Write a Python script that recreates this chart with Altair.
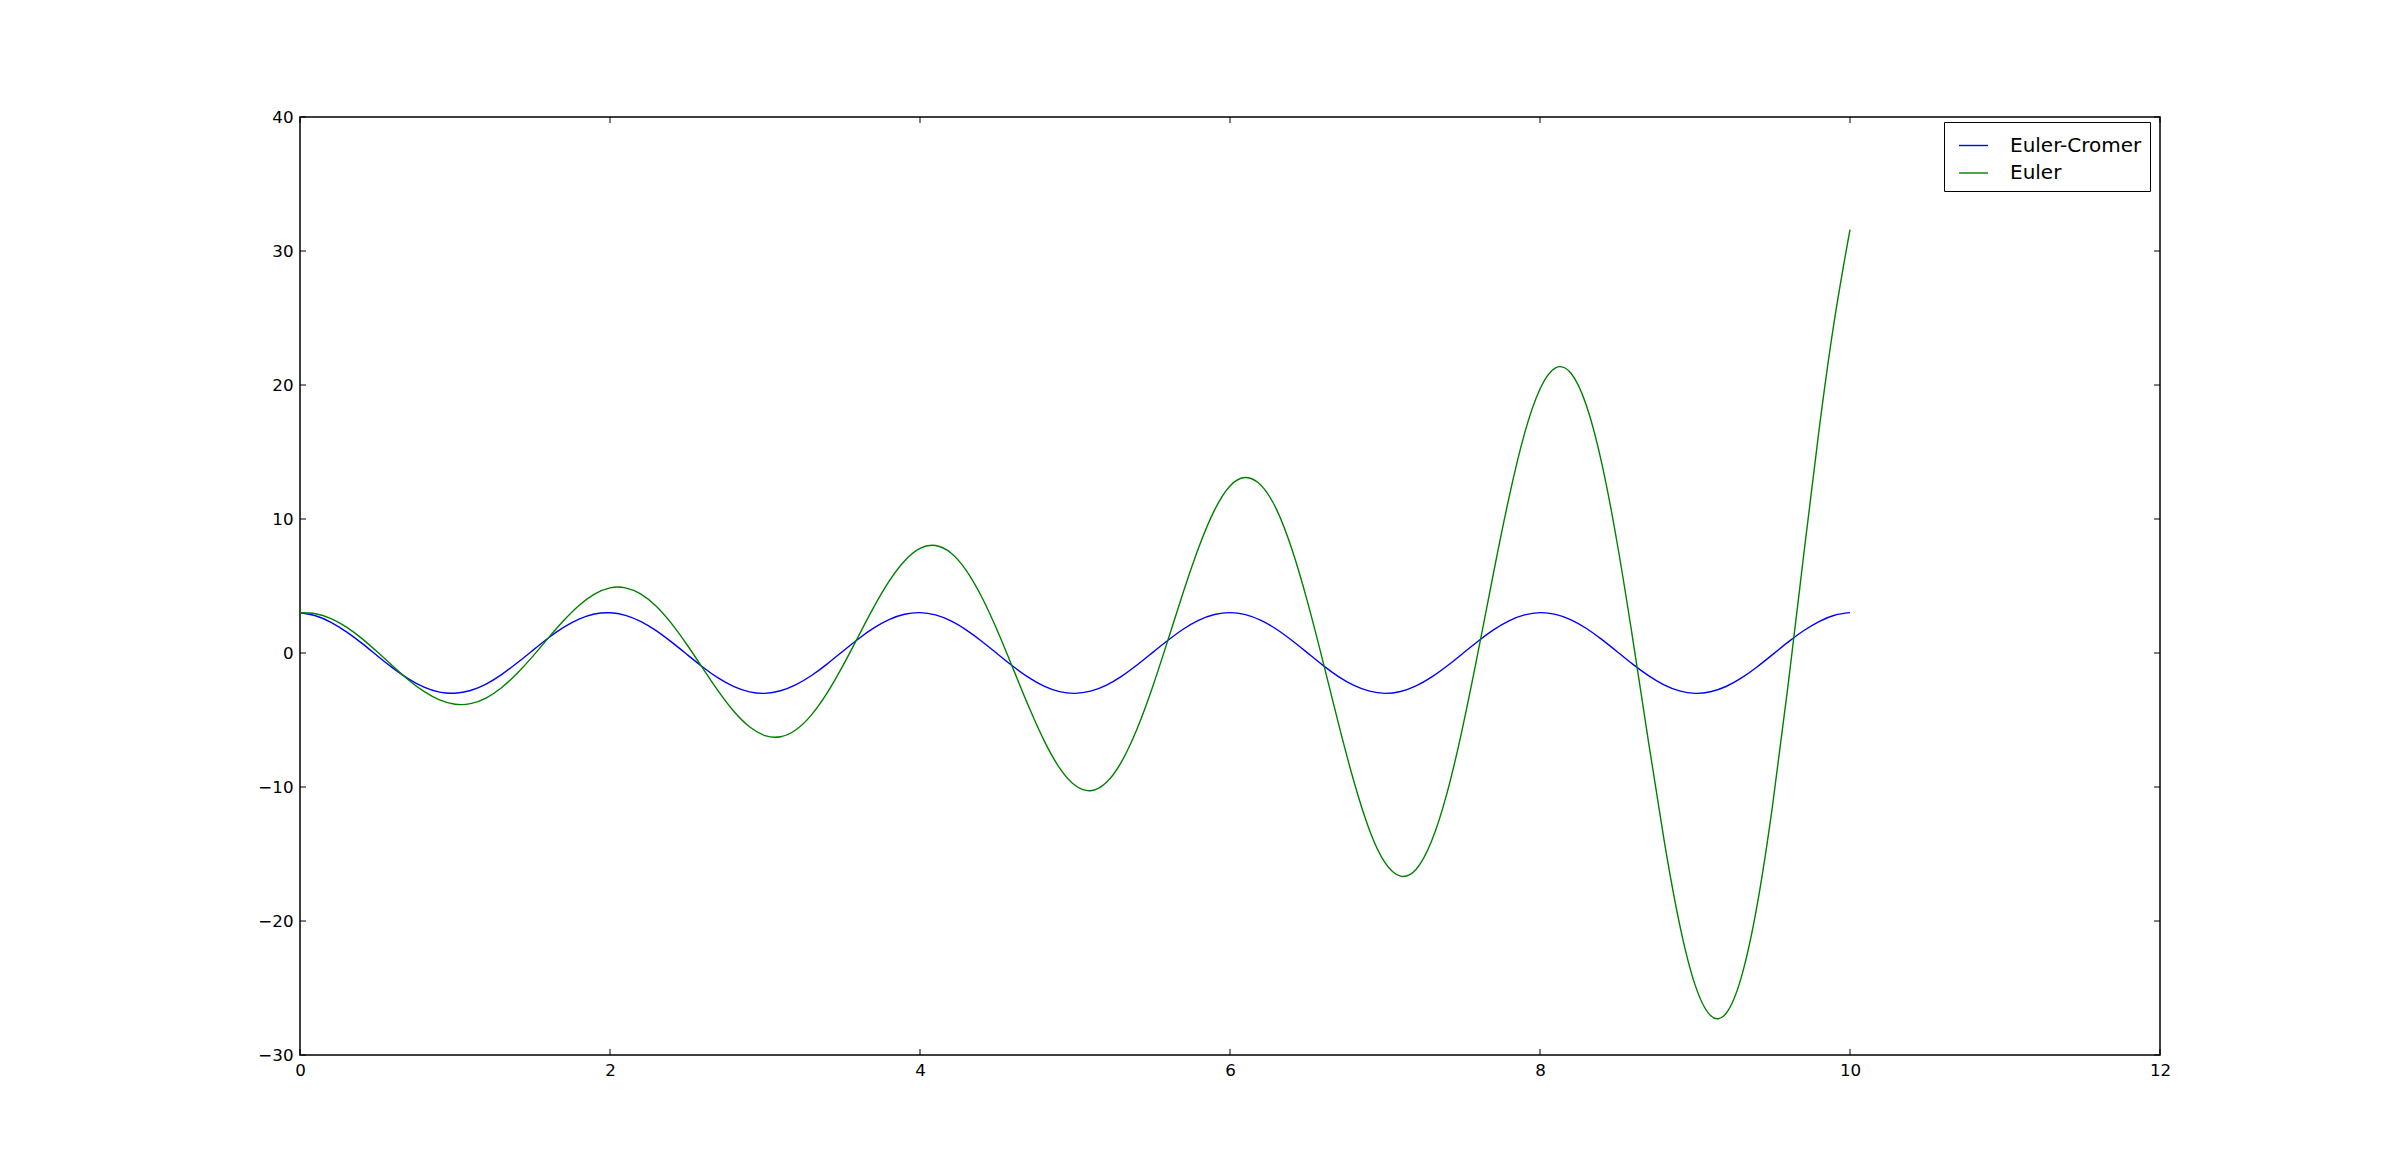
import altair as alt
import pandas as pd

# sample grid (plotted time)
x_vals = [round(i * 0.1, 1) for i in range(101)]

euler_cromer = [
    3.00, 2.78, 2.29, 1.58, 0.72, -0.22, -1.13, -1.93, -2.55, -2.92,
    -3.00, -2.80, -2.32, -1.61, -0.75, 0.18, 1.10, 1.91, 2.53, 2.91,
    3.00, 2.81, 2.34, 1.65, 0.79, -0.14, -1.06, -1.88, -2.51, -2.90,
    -3.01, -2.82, -2.36, -1.68, -0.83, 0.11, 1.03, 1.85, 2.49, 2.89,
    3.01, 2.84, 2.39, 1.71, 0.86, -0.07, -0.99, -1.82, -2.47, -2.88,
    -3.01, -2.85, -2.41, -1.74, -0.90, 0.03, 0.95, 1.79, 2.45, 2.87,
    3.01, 2.86, 2.43, 1.77, 0.93, 0.01, -0.92, -1.76, -2.42, -2.85,
    -3.01, -2.87, -2.45, -1.80, -0.97, -0.05, 0.88, 1.73, 2.40, 2.84,
    3.01, 2.88, 2.48, 1.83, 1.00, 0.08, -0.85, -1.69, -2.38, -2.83,
    -3.01, -2.89, -2.50, -1.86, -1.04, -0.12, 0.81, 1.66, 2.35, 2.82, 3.01,
]

euler = [
    3.00, 2.93, 2.56, 1.93, 1.07, 0.07, -0.99, -2.01, -2.87, -3.50,
    -3.82, -3.78, -3.36, -2.59, -1.53, -0.27, 1.09, 2.40, 3.54, 4.39,
    4.86, 4.86, 4.39, 3.47, 2.15, 0.56, -1.16, -2.86, -4.36, -5.50,
    -6.16, -6.25, -5.73, -4.62, -3.00, -1.00, 1.19, 3.38, 5.34, 6.87,
    7.81, 8.02, 7.46, 6.13, 4.14, 1.64, -1.15, -3.96, -6.52, -8.57,
    -9.87, -10.28, -9.69, -8.12, -5.67, -2.55, 0.98, 4.59, 7.93, 10.66,
    12.47, 13.10, 12.52, 10.72, 7.72, 3.82, -0.64, -5.27, -9.61, -13.22,
    -15.65, -16.65, -16.15, -14.05, -10.46, -5.60, 0.04, 5.97, 11.60, 16.37,
    19.70, 21.28, 20.88, 18.45, 14.08, 8.06, 0.93, -6.63, -13.92, -20.21,
    -24.75, -27.05, -26.90, -24.15, -18.88, -11.41, -2.45, 7.20, 16.62, 24.88, 31.60,
]

series_names = ["Euler-Cromer", "Euler"]
series_colors = ["#0000ff", "#008000"]
x_ticks = [0, 2, 4, 6, 8, 10, 12]
y_ticks = [-30, -20, -10, 0, 10, 20, 30, 40]

W, H = 1860, 938
FONT = "DejaVu Sans"

df = pd.DataFrame({
    "t": x_vals + x_vals,
    "value": euler_cromer + euler,
    "series": [series_names[0]] * len(x_vals) + [series_names[1]] * len(x_vals),
})

xscale = alt.Scale(domain=[0, 12], nice=False, zero=False)
yscale = alt.Scale(domain=[-30, 40], nice=False, zero=False)

axis_common = dict(
    title=None, grid=False, domain=False, ticks=False,
    labelFont=FONT, labelFontSize=16.7, labelColor="black",
    labelFlush=False, labelOverlap=False, labelPadding=7,
)
x_axis = alt.Axis(values=x_ticks, **axis_common)
y_axis = alt.Axis(values=y_ticks, **axis_common)

lines = alt.Chart(df).mark_line(strokeWidth=1.4, interpolate="natural").encode(
    x=alt.X("t:Q", scale=xscale, axis=x_axis),
    y=alt.Y("value:Q", scale=yscale, axis=y_axis),
    color=alt.Color(
        "series:N",
        scale=alt.Scale(domain=series_names, range=series_colors),
        legend=alt.Legend(
            title=None, orient="none", legendX=1644, legendY=5,
            direction="vertical", symbolType="stroke", symbolSize=841,
            symbolStrokeWidth=1.4, labelFontSize=20, labelFont=FONT,
            labelColor="black", labelOffset=21, padding=8, symbolOffset=6,
            strokeColor="black", fillColor="white", cornerRadius=0,
            rowPadding=1.5, labelLimit=400,
        ),
    ),
)

xt = pd.DataFrame({"v": x_ticks})
yt = pd.DataFrame({"v": y_ticks})

bottom_ticks = alt.Chart(xt).mark_rule(color="black", strokeWidth=1).encode(
    x=alt.X("v:Q", scale=xscale, axis=x_axis), y=alt.value(H), y2=alt.value(H - 6))
top_ticks = alt.Chart(xt).mark_rule(color="black", strokeWidth=1).encode(
    x=alt.X("v:Q", scale=xscale, axis=x_axis), y=alt.value(0), y2=alt.value(6))
left_ticks = alt.Chart(yt).mark_rule(color="black", strokeWidth=1).encode(
    y=alt.Y("v:Q", scale=yscale, axis=y_axis), x=alt.value(0), x2=alt.value(6))
right_ticks = alt.Chart(yt).mark_rule(color="black", strokeWidth=1).encode(
    y=alt.Y("v:Q", scale=yscale, axis=y_axis), x=alt.value(W), x2=alt.value(W - 6))

chart = alt.layer(lines, bottom_ticks, top_ticks, left_ticks, right_ticks).properties(
    width=W, height=H,
    autosize=alt.AutoSizeParams(type="none"),
    padding={"left": 292, "top": 109, "right": 200, "bottom": 100},
    background="white",
).configure_view(stroke="black", strokeWidth=1.5)

chart.save("out.html", embed_options={"renderer": "svg", "actions": False})
